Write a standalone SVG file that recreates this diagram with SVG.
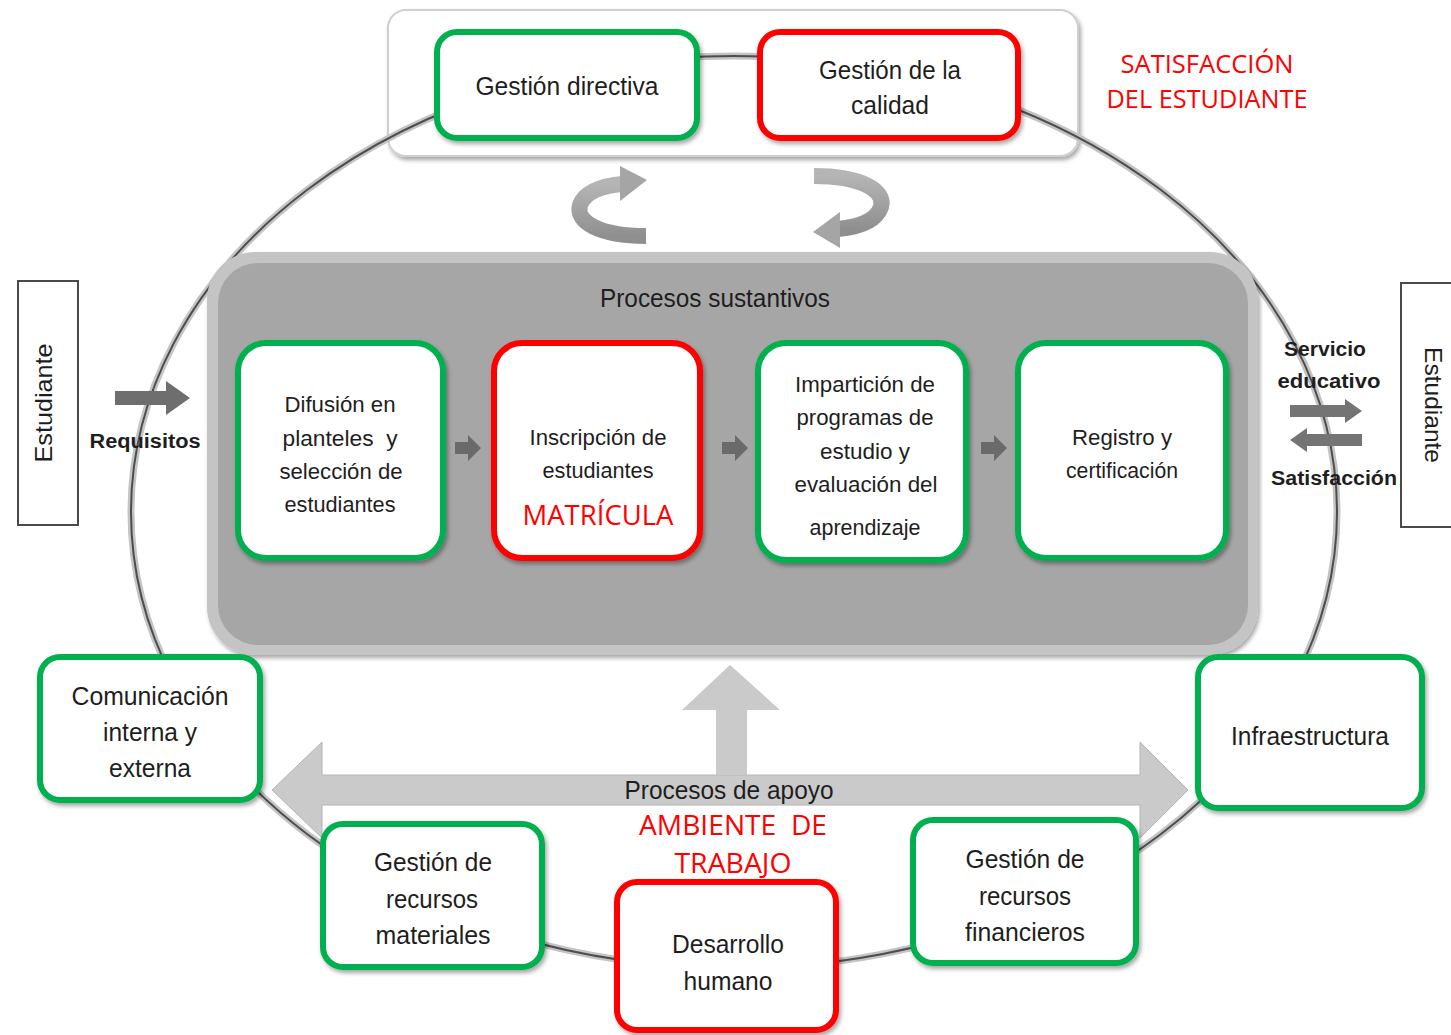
<svg xmlns="http://www.w3.org/2000/svg" width="1451" height="1035" viewBox="0 0 1451 1035">
<style>
.t{font-family:"Liberation Sans",Arial,sans-serif;fill:#1e1e1e;text-anchor:middle}
.b{font-weight:bold}
.r{font-family:"Open Sans","Liberation Sans",sans-serif;fill:#ff0000;text-anchor:middle}
.g{fill:#ffffff;stroke:#00b050;stroke-width:6}
.rd{fill:#ffffff;stroke:#ff0000;stroke-width:6}
.sa{fill:#6a6a6a}
.est{fill:#ffffff;stroke:#4a4a4a;stroke-width:2}
</style>
<defs>
<filter id="sh" x="-10%" y="-10%" width="120%" height="130%">
<feDropShadow dx="2" dy="3" stdDeviation="2" flood-color="#000" flood-opacity="0.35"/>
</filter>
<linearGradient id="ca" x1="0" y1="0" x2="0" y2="1">
<stop offset="0" stop-color="#b5b5b5"/>
<stop offset="1" stop-color="#8f8f8f"/>
</linearGradient>
</defs>

<!-- top panel -->
<g id="top-panel">
<rect x="388" y="10" width="690" height="146" rx="18" fill="#ffffff" stroke="#cfcfcf" stroke-width="2" filter="url(#sh)"/>
</g>

<!-- connectors -->
<g id="connectors">
<ellipse cx="734" cy="512" rx="603" ry="456" fill="none" stroke="#c4c4c4" stroke-width="7"/>
<ellipse cx="734" cy="512" rx="603" ry="456" fill="none" stroke="#4d4d4d" stroke-width="2"/>
<!-- cycle arrows -->
<path d="M646 236 C600 236 575 222 580 205 C585 192 600 186 622 184" fill="none" stroke="url(#ca)" stroke-width="16"/>
<polygon points="620,166 647,180 620,201" fill="#a5a5a5"/>
<path d="M814 176 C860 176 886 190 881 207 C876 221 860 227 838 229" fill="none" stroke="url(#ca)" stroke-width="16"/>
<polygon points="840,212 813,232 840,248" fill="#a5a5a5"/>
</g>

<!-- main gray panel -->
<g id="procesos-sustantivos">
<rect x="207" y="252" width="1051" height="403" rx="48" fill="#c4c4c4" filter="url(#sh)"/>
<rect x="218" y="263" width="1030" height="382" rx="40" fill="#a6a6a6"/>
<text class="t" x="715" y="307" font-size="25" textLength="230" lengthAdjust="spacingAndGlyphs">Procesos sustantivos</text>
</g>

<!-- support arrows -->
<g id="apoyo-arrows">
<polygon points="272,790 322,742 322,775 1140,775 1140,742 1188,790 1140,838 1140,805 322,805 322,838" fill="#cacaca" stroke="#b5b5b5" stroke-width="1"/>
<polygon points="730,665 780,710 747,710 747,775 716,775 716,710 682,710" fill="#cacaca"/>
<text class="t" x="729" y="799" font-size="26" textLength="209" lengthAdjust="spacingAndGlyphs">Procesos de apoyo</text>
<text class="r" x="733" y="835" font-size="27" textLength="188" lengthAdjust="spacingAndGlyphs" xml:space="preserve">AMBIENTE  DE</text>
<text class="r" x="733" y="873" font-size="27" textLength="117" lengthAdjust="spacingAndGlyphs">TRABAJO</text>
</g>

<!-- top nodes -->
<g id="gestion-directiva">
<rect class="g" x="437" y="32" width="260" height="106" rx="20" filter="url(#sh)"/>
<text class="t" x="567" y="95" font-size="26" textLength="183" lengthAdjust="spacingAndGlyphs">Gestión directiva</text>
</g>
<g id="gestion-calidad">
<rect class="rd" x="760" y="32" width="258" height="106" rx="20" filter="url(#sh)"/>
<text class="t" x="890" y="79" font-size="26" textLength="142" lengthAdjust="spacingAndGlyphs">Gestión de la</text>
<text class="t" x="890" y="114" font-size="26" textLength="78" lengthAdjust="spacingAndGlyphs">calidad</text>
</g>
<g id="satisfaccion-label">
<text class="r" x="1207" y="73" font-size="25" textLength="173" lengthAdjust="spacingAndGlyphs">SATISFACCIÓN</text>
<text class="r" x="1207" y="108" font-size="25" textLength="201" lengthAdjust="spacingAndGlyphs">DEL ESTUDIANTE</text>
</g>

<!-- process nodes -->
<g id="difusion">
<rect class="g" x="238" y="343" width="205" height="215" rx="28" filter="url(#sh)"/>
<text class="t" x="340" y="412" font-size="22" textLength="111" lengthAdjust="spacingAndGlyphs">Difusión en</text>
<text class="t" x="340" y="446" font-size="22" textLength="115" lengthAdjust="spacingAndGlyphs" xml:space="preserve">planteles  y</text>
<text class="t" x="341" y="479" font-size="22" textLength="123" lengthAdjust="spacingAndGlyphs">selección de</text>
<text class="t" x="340" y="512" font-size="22" textLength="111" lengthAdjust="spacingAndGlyphs">estudiantes</text>
</g>
<g id="inscripcion">
<rect class="rd" x="494" y="343" width="206" height="215" rx="28" filter="url(#sh)"/>
<text class="t" x="598" y="445" font-size="22" textLength="137" lengthAdjust="spacingAndGlyphs">Inscripción de</text>
<text class="t" x="598" y="478" font-size="22" textLength="111" lengthAdjust="spacingAndGlyphs">estudiantes</text>
<text class="r" x="598" y="525" font-size="27" textLength="151" lengthAdjust="spacingAndGlyphs">MATRÍCULA</text>
</g>
<g id="imparticion">
<rect class="g" x="758" y="343" width="208" height="217" rx="28" filter="url(#sh)"/>
<text class="t" x="865" y="392" font-size="22" textLength="140" lengthAdjust="spacingAndGlyphs">Impartición de</text>
<text class="t" x="865" y="425" font-size="22" textLength="137" lengthAdjust="spacingAndGlyphs">programas de</text>
<text class="t" x="865" y="459" font-size="22" textLength="90" lengthAdjust="spacingAndGlyphs">estudio y</text>
<text class="t" x="866" y="492" font-size="22" textLength="143" lengthAdjust="spacingAndGlyphs">evaluación del</text>
<text class="t" x="865" y="535" font-size="22" textLength="111" lengthAdjust="spacingAndGlyphs">aprendizaje</text>
</g>
<g id="registro">
<rect class="g" x="1018" y="343" width="208" height="215" rx="28" filter="url(#sh)"/>
<text class="t" x="1122" y="445" font-size="22" textLength="100" lengthAdjust="spacingAndGlyphs">Registro y</text>
<text class="t" x="1122" y="478" font-size="22" textLength="112" lengthAdjust="spacingAndGlyphs">certificación</text>
</g>
<g id="process-arrows">
<polygon class="sa" points="455,442 468,442 468,435 481,448 468,461 468,454 455,454"/>
<polygon class="sa" points="722,442 735,442 735,435 748,448 735,461 735,454 722,454"/>
<polygon class="sa" points="981,442 994,442 994,435 1007,448 994,461 994,454 981,454"/>
</g>

<!-- students -->
<g id="estudiante-izq">
<rect class="est" x="18" y="281" width="60" height="244"/>
<text class="t" transform="translate(52 403) rotate(-90)" font-size="24" textLength="119" lengthAdjust="spacingAndGlyphs">Estudiante</text>
</g>
<g id="requisitos">
<polygon points="115,391 166,391 166,381 190,398 166,415 166,405 115,405" fill="#6e6e6e"/>
<text class="t b" x="145" y="448" font-size="20" textLength="111" lengthAdjust="spacingAndGlyphs">Requisitos</text>
</g>
<g id="estudiante-der">
<rect class="est" x="1401" y="283" width="60" height="244"/>
<text class="t" transform="translate(1425 405) rotate(90)" font-size="24" textLength="116" lengthAdjust="spacingAndGlyphs">Estudiante</text>
</g>
<g id="servicio-satisfaccion">
<text class="t b" x="1325" y="356" font-size="20" textLength="82" lengthAdjust="spacingAndGlyphs">Servicio</text>
<text class="t b" x="1329" y="388" font-size="20" textLength="103" lengthAdjust="spacingAndGlyphs">educativo</text>
<polygon points="1290,405 1345,405 1345,399 1362,411 1345,423 1345,417 1290,417" fill="#747474"/>
<polygon points="1290,440 1307,428 1307,434 1362,434 1362,446 1307,446 1307,452" fill="#747474"/>
<text class="t b" x="1334" y="485" font-size="20" textLength="126" lengthAdjust="spacingAndGlyphs">Satisfacción</text>
</g>

<!-- support nodes -->
<g id="comunicacion">
<rect class="g" x="40" y="657" width="220" height="143" rx="20" filter="url(#sh)"/>
<text class="t" x="150" y="705" font-size="26" textLength="157" lengthAdjust="spacingAndGlyphs">Comunicación</text>
<text class="t" x="150" y="741" font-size="26" textLength="94" lengthAdjust="spacingAndGlyphs">interna y</text>
<text class="t" x="150" y="777" font-size="26" textLength="82" lengthAdjust="spacingAndGlyphs">externa</text>
</g>
<g id="infraestructura">
<rect class="g" x="1198" y="657" width="224" height="151" rx="20" filter="url(#sh)"/>
<text class="t" x="1310" y="745" font-size="26" textLength="158" lengthAdjust="spacingAndGlyphs">Infraestructura</text>
</g>
<g id="recursos-materiales">
<rect class="g" x="323" y="824" width="219" height="143" rx="20" filter="url(#sh)"/>
<text class="t" x="433" y="871" font-size="26" textLength="118" lengthAdjust="spacingAndGlyphs">Gestión de</text>
<text class="t" x="432" y="908" font-size="26" textLength="92" lengthAdjust="spacingAndGlyphs">recursos</text>
<text class="t" x="433" y="944" font-size="26" textLength="115" lengthAdjust="spacingAndGlyphs">materiales</text>
</g>
<g id="desarrollo-humano">
<rect class="rd" x="617" y="882" width="219" height="148" rx="20" filter="url(#sh)"/>
<text class="t" x="728" y="953" font-size="26" textLength="112" lengthAdjust="spacingAndGlyphs">Desarrollo</text>
<text class="t" x="728" y="990" font-size="26" textLength="89" lengthAdjust="spacingAndGlyphs">humano</text>
</g>
<g id="recursos-financieros">
<rect class="g" x="913" y="820" width="223" height="143" rx="20" filter="url(#sh)"/>
<text class="t" x="1025" y="868" font-size="26" textLength="119" lengthAdjust="spacingAndGlyphs">Gestión de</text>
<text class="t" x="1025" y="905" font-size="26" textLength="92" lengthAdjust="spacingAndGlyphs">recursos</text>
<text class="t" x="1025" y="941" font-size="26" textLength="120" lengthAdjust="spacingAndGlyphs">financieros</text>
</g>
</svg>
